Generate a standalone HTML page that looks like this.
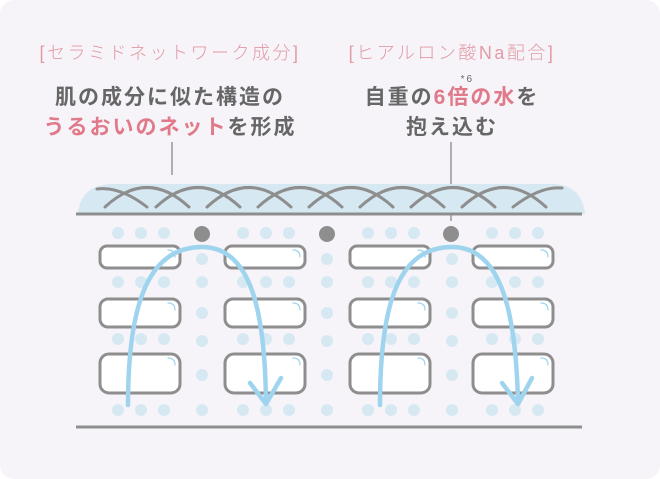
<!DOCTYPE html>
<html><head><meta charset="utf-8"><style>
body{margin:0;background:#fff}
.c{position:relative;width:660px;height:479px;background:#f6f4f8;border-radius:14px;overflow:hidden;font-family:"Liberation Sans","Noto Sans CJK JP",sans-serif}
.t{position:absolute;text-align:center;white-space:nowrap}
.h{color:#e29aa4;font-size:18px;letter-spacing:2.5px;font-weight:300}
.b{color:#666;font-size:21px;font-weight:bold;letter-spacing:2px}
.p{color:#e07a8a}
sup{font-size:10px;font-weight:normal;position:absolute;top:-12px;left:96px;color:#666}
</style></head><body><div class="c">
<div class="t h" style="left:20px;width:300px;top:39px">[セラミドネットワーク成分]</div>
<div class="t h" style="left:312px;width:280px;top:39px">[ヒアルロン酸Na配合]</div>
<div class="t b" style="left:20px;width:300px;top:81px">肌の成分に似た構造の</div>
<div class="t b" style="left:20px;width:300px;top:111px"><span class="p">うるおいのネット</span>を形成</div>
<div class="t b" style="left:322px;width:260px;top:81px"><span style="position:relative">自重の<span class="p">6倍<sup>*6</sup>の水</span>を</span></div>
<div class="t b" style="left:322px;width:260px;top:111px">抱え込む</div>
<svg width="660" height="479" style="position:absolute;left:0;top:0">
<line x1="172" y1="142" x2="172" y2="175" stroke="#666" stroke-width="1"/>
<line x1="451" y1="142" x2="451" y2="221" stroke="#666" stroke-width="1"/>
<path d="M78 214 Q80 186 110 184 L555 184 Q582 186 585 214 Z" fill="#d6e9f3"/>
<g fill="none" stroke="#8e8e8e" stroke-width="3" stroke-linecap="round">
<path d="M97 189 Q120 186 147 207"/>
<path d="M105 207 Q147 168 189 207"/>
<path d="M156 207 Q198 168 240 207"/>
<path d="M207 207 Q249 168 291 207"/>
<path d="M258 207 Q300 168 342 207"/>
<path d="M309 207 Q351 168 393 207"/>
<path d="M360 207 Q402 168 444 207"/>
<path d="M411 207 Q453 168 495 207"/>
<path d="M462 207 Q504 168 546 207"/>
<path d="M513 207 Q540 186 562 188"/>
</g>
<line x1="76" y1="214" x2="582" y2="214" stroke="#8e8e8e" stroke-width="3"/>
<line x1="76" y1="427" x2="582" y2="427" stroke="#8e8e8e" stroke-width="3"/>
<g fill="#d6e9f3">
<g id="cd">
<circle cx="118" cy="233" r="6"/><circle cx="141" cy="233" r="6"/><circle cx="164" cy="233" r="6"/>
<circle cx="118" cy="282" r="6"/><circle cx="141" cy="282" r="6"/><circle cx="164" cy="282" r="6"/>
<circle cx="118" cy="339" r="6"/><circle cx="141" cy="339" r="6"/><circle cx="164" cy="339" r="6"/>
<circle cx="118" cy="410" r="6"/><circle cx="141" cy="410" r="6"/><circle cx="164" cy="410" r="6"/>
</g>
<use href="#cd" x="125"/><use href="#cd" x="250"/><use href="#cd" x="374"/>
<g id="md"><circle cx="202" cy="259" r="6"/><circle cx="202" cy="282" r="6"/><circle cx="202" cy="313" r="6"/><circle cx="202" cy="341" r="6"/><circle cx="202" cy="375" r="6"/><circle cx="202" cy="410" r="6"/></g>
<use href="#md" x="125"/><use href="#md" x="250"/>
</g>
<g fill="#8e8e8e"><circle cx="202" cy="234" r="8"/><circle cx="327" cy="234" r="8"/><circle cx="451" cy="234" r="8"/></g>
<g id="bx">
<g fill="#fff" stroke="#8e8e8e" stroke-width="3">
<rect x="100" y="246" width="80" height="22" rx="7"/>
<rect x="100" y="299" width="80" height="28" rx="8"/>
<rect x="100" y="354" width="80" height="39" rx="9"/>
</g>
<g fill="none" stroke="#9fd4ef" stroke-width="1.2" stroke-linecap="round">
<path d="M168 250 Q175 250 175 257"/>
<path d="M168 303 Q175 303 175 310"/>
<path d="M168 358 Q175 358 175 365"/>
</g>
</g>
<use href="#bx" x="125"/><use href="#bx" x="250"/><use href="#bx" x="373"/>
<g fill="none" stroke="#9fd4ef" stroke-width="4.5" stroke-linecap="round" stroke-linejoin="round">
<path d="M128 405 C128 300 150 247 202 247 C254 247 265 320 266 402"/>
<path d="M250 383 L266 404 L281 378"/>
<path d="M380 405 C380 300 400 247 452 247 C504 247 516 320 518 402"/>
<path d="M502 383 L518 404 L532 378"/>
</g>
</svg>
</div></body></html>
